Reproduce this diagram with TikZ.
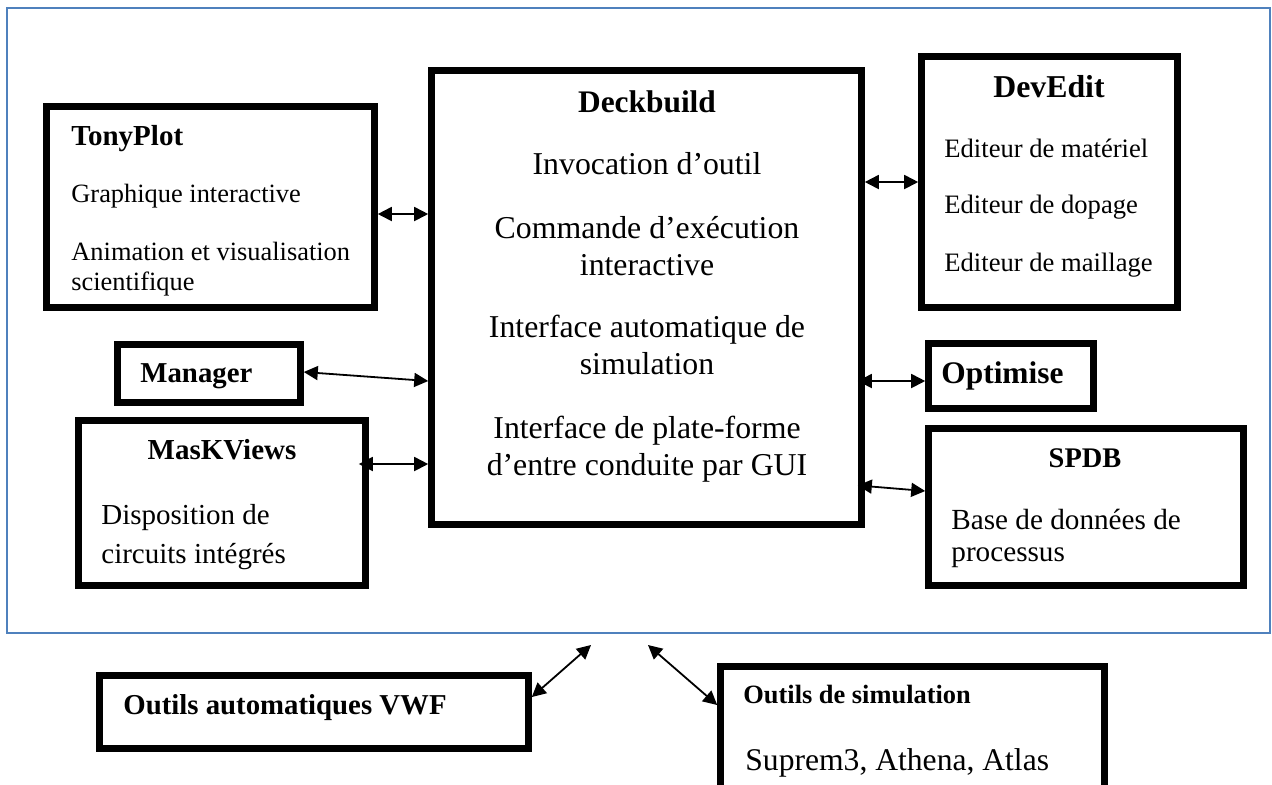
\documentclass[tikz,border=0pt]{standalone}
\usepackage{fontspec}
\setmainfont{Liberation Serif}
\usetikzlibrary{arrows.meta}
\newcommand\myfs[1]{\fontsize{#1pt}{#1pt}\selectfont}
\definecolor{framecol}{HTML}{4F81BD}
\tikzset{
  box/.style={draw, line width=3.3pt, inner sep=0pt},
  txt/.style={inner sep=0pt, anchor=base west},
  ctxt/.style={inner sep=0pt, anchor=base},
  arr/.style={line width=0.9pt, {Triangle[length=7pt,width=7pt]}-{Triangle[length=7pt,width=7pt]}},
  frame/.style={draw=framecol, line width=1pt}
}
\begin{document}
\begin{tikzpicture}[x=0.5pt,y=-0.5pt]
\useasboundingbox (0,0) rectangle (1272,784);
\clip (0,0) rectangle (1272,784);
\fill[white] (0,0) rectangle (1272,784);
\draw[frame] (7,8) rectangle (1270,633);

% boxes
\node[box, minimum width=164pt, minimum height=100.5pt] (tony) at (210.5,207) {};
\node[box, minimum width=215pt, minimum height=227pt] (deck) at (646.5,297.5) {};
\node[box, minimum width=128pt, minimum height=125.5pt] (dev) at (1049.5,182) {};
\node[box, minimum width=91.5pt, minimum height=29pt] (mgr) at (209,373.5) {};
\node[box, minimum width=143.5pt, minimum height=82.5pt] (mask) at (222,503) {};
\node[box, minimum width=82.5pt, minimum height=32.5pt] (opt) at (1011,376) {};
\node[box, minimum width=157.5pt, minimum height=78.5pt] (spdb) at (1086,507) {};
\node[box, minimum width=214.5pt, minimum height=36.5pt] (vwf) at (314,712) {};
\node[box, minimum width=192pt, minimum height=62pt] (sim) at (912.5,728.5) {};

% TonyPlot
\node[txt, font=\myfs{14.5}\bfseries] (tonyT) at (71,145) {TonyPlot};
\node[txt, font=\myfs{13.2}] (tony1) at (71,202) {Graphique interactive};
\node[txt, font=\myfs{13.2}] (tony2) at (71,260) {Animation et visualisation};
\node[txt, font=\myfs{13.2}] (tony3) at (71,290) {scientifique};

% Deckbuild
\node[ctxt, font=\myfs{15.7}\bfseries] (deckT) at (647,112) {Deckbuild};
\node[ctxt, font=\myfs{15.9}] (deck1) at (647,174) {Invocation d’outil};
\node[ctxt, font=\myfs{15.9}] (deck2) at (647,238) {Commande d’exécution};
\node[ctxt, font=\myfs{15.9}] (deck3) at (647,275) {interactive};
\node[ctxt, font=\myfs{15.9}] (deck4) at (647,337) {Interface automatique de};
\node[ctxt, font=\myfs{15.9}] (deck5) at (647,374) {simulation};
\node[ctxt, font=\myfs{15.9}] (deck6) at (647,438) {Interface de plate-forme};
\node[ctxt, font=\myfs{15.9}] (deck7) at (647,475) {d’entre conduite par GUI};

% DevEdit
\node[ctxt, font=\myfs{15.9}\bfseries] (devT) at (1049,97) {DevEdit};
\node[txt, font=\myfs{13.3}] (dev1) at (944,157) {Editeur de matériel};
\node[txt, font=\myfs{13.3}] (dev2) at (944,213) {Editeur de dopage};
\node[txt, font=\myfs{13.3}] (dev3) at (944,271) {Editeur de maillage};

% Manager
\node[txt, font=\myfs{14.4}\bfseries] (mgrT) at (140,382) {Manager};

% MasKViews
\node[ctxt, font=\myfs{14.5}\bfseries] (maskT) at (222,459) {MasKViews};
\node[txt, font=\myfs{14.5}] (mask1) at (101,524) {Disposition de};
\node[txt, font=\myfs{14.5}] (mask2) at (101,563) {circuits intégrés};

% Optimise
\node[txt, font=\myfs{15.7}\bfseries] (optT) at (941,383) {Optimise};

% SPDB
\node[ctxt, font=\myfs{14.2}\bfseries] (spdbT) at (1085,467) {SPDB};
\node[txt, font=\myfs{14.6}] (spdb1) at (951,529) {Base de données de};
\node[txt, font=\myfs{14.6}] (spdb2) at (951,561) {processus};

% bottom boxes
\node[txt, font=\myfs{14.4}\bfseries] (vwfT) at (123,714) {Outils automatiques VWF};
\node[txt, font=\myfs{13.2}\bfseries] (simT) at (743,703) {Outils de simulation};
\node[txt, font=\myfs{15.8}] (sim1) at (745,770) {Suprem3, Athena, Atlas};

% connectors
\coordinate (c1) at (591,645);
\coordinate (c2) at (648,645);
\draw[arr] (tony.east |- 0,214) -- (deck.west |- 0,214);
\draw[arr] (mgr.east |- 0,372) -- (deck.west |- 0,381);
\draw[arr, shorten <=-5pt] (mask.east |- 0,464) -- (deck.west |- 0,464);
\draw[arr] (deck.east |- 0,182) -- (dev.west |- 0,182);
\draw[arr, shorten <=-3.5pt] (deck.east |- 0,381) -- (opt.west |- 0,381);
\draw[arr, shorten <=-3.5pt] (deck.east |- 0,486) -- (spdb.west |- 0,491);
\draw[arr] (vwf.east |- 0,697) -- (c1);
\draw[arr] (c2) -- (sim.west |- 0,705);
\end{tikzpicture}
\end{document}
